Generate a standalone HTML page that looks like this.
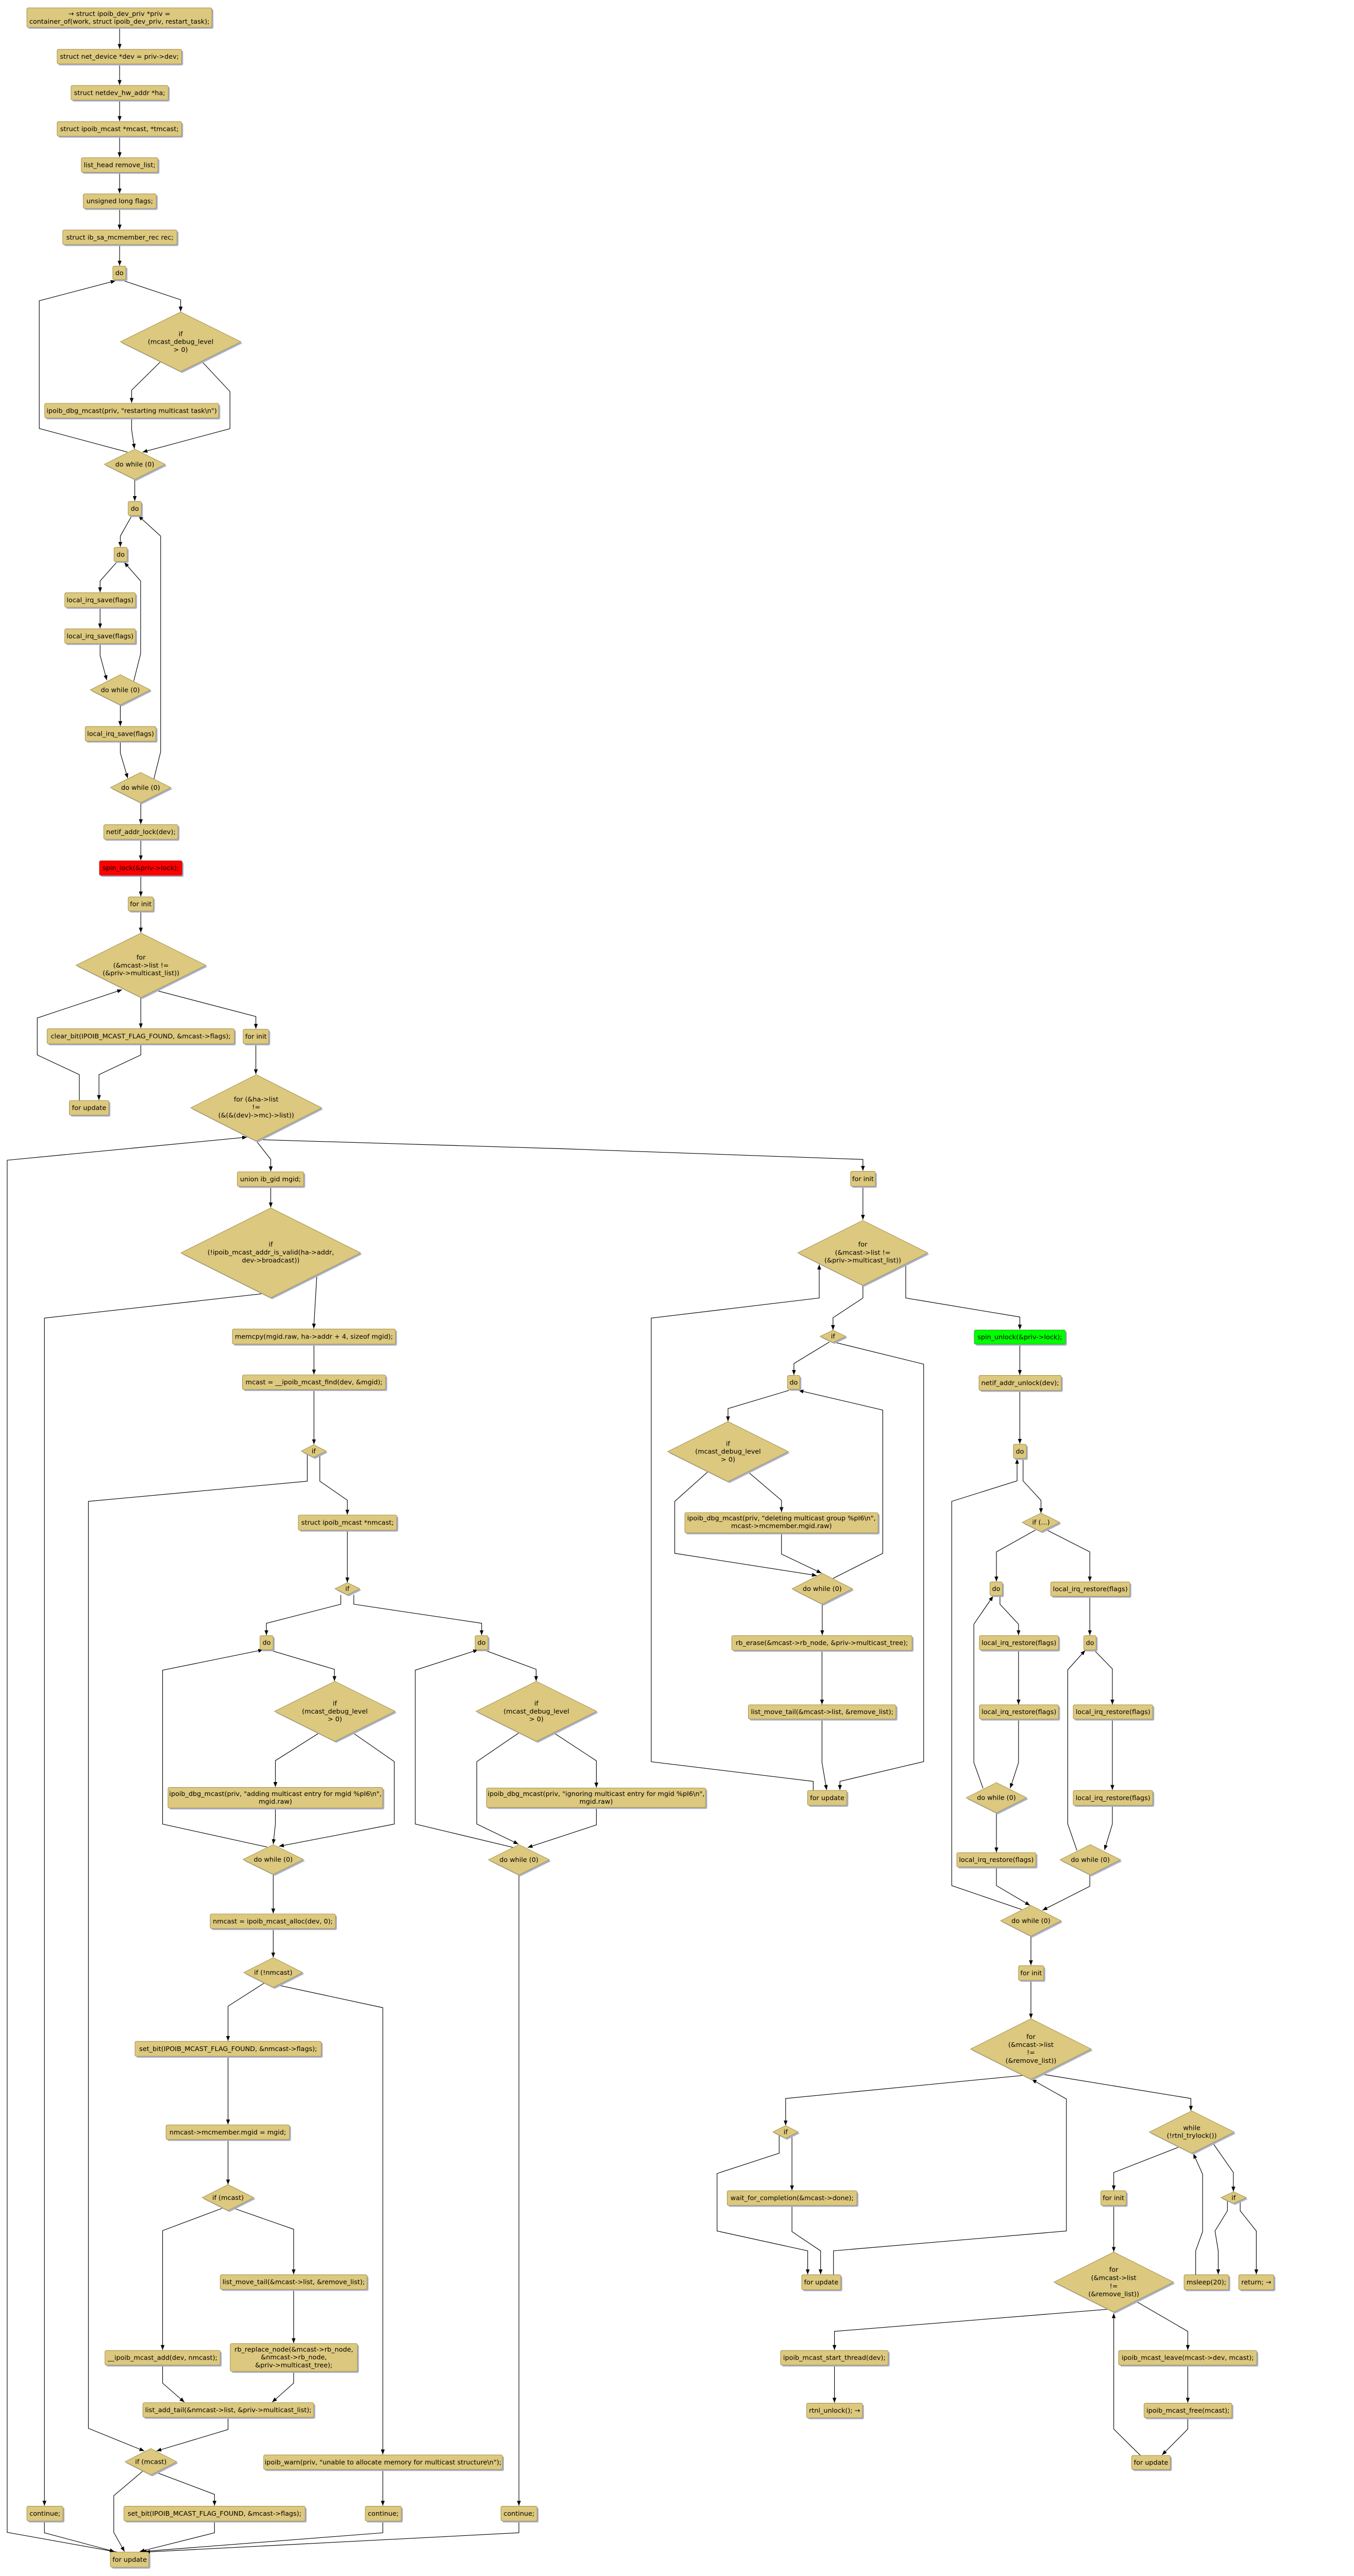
<!DOCTYPE html>
<html><head><meta charset="utf-8">
<style>
html,body{margin:0;padding:0;background:#fff;width:100%;height:100%;overflow:hidden;}
svg{position:absolute;top:0;left:0;display:block;width:100vw;height:100vh;}
.b{fill:#dcc87e;stroke:#a08c48;stroke-width:1;}
.s{fill:#a9b1cc;stroke:none;}
.e{fill:none;stroke:#000;stroke-width:1.2;}
text{font-family:"DejaVu Sans","Liberation Sans",sans-serif;font-size:13.5px;text-anchor:middle;fill:#000;}
</style></head>
<body><svg viewBox="0 0 2628 5276" preserveAspectRatio="xMinYMin meet" xmlns="http://www.w3.org/2000/svg">
<defs>
<marker id="a" markerUnits="userSpaceOnUse" markerWidth="11" markerHeight="8" refX="10" refY="4" orient="auto">
<path d="M0,0 L10,4 L0,8 z" fill="#000"/>
</marker>
</defs>
<rect width="2628" height="5276" fill="#fff"/>

<g class="e" marker-end="url(#a)">
<path d="M245,56 V100"/>
<path d="M245,131 V174"/>
<path d="M245,205 V248"/>
<path d="M245,279 V322"/>
<path d="M245,353 V396"/>
<path d="M245,427 V470"/>
<path d="M245,501 V544"/>
<path d="M252,574.6 L370,614 L370,638"/>
<path d="M328,741.7 L269.6,799 L269.6,825"/>
<path d="M413,740 L471,802 L471,878 L292,926"/>
<path d="M269.6,856 L269.6,880 L275.4,919"/>
<path d="M261,926 L80.4,877.6 L80.4,616 L236.6,575"/>
<path d="M276,982 L276,1026"/>
<path d="M269,1058 L246.4,1098 L246.4,1120"/>
<path d="M238.8,1151.8 L205,1190 L205,1213"/>
<path d="M205,1244 L205,1287"/>
<path d="M205,1318 L205,1342 L218.75,1393"/>
<path d="M274,1394.6 L288,1339 L288,1190 L254.5,1151.8"/>
<path d="M246.4,1444 L246.4,1487"/>
<path d="M246.4,1518 L246.4,1542 L261.6,1594"/>
<path d="M315,1596 L329,1540 L329,1098 L283.5,1056.5"/>
<path d="M288.4,1644 L288.4,1688"/>
<path d="M288.4,1719 L288.4,1762"/>
<path d="M288.4,1793 L288.4,1836"/>
<path d="M288.4,1866 L288.4,1910"/>
<path d="M288.4,2043 L288.4,2106"/>
<path d="M288.4,2138 L288.4,2160.7 L202.7,2201 L202.7,2253"/>
<path d="M162.5,2254 L162.5,2201 L76.3,2160.7 L76.3,2085 L250,2027"/>
<path d="M319.6,2028.6 L524,2082 L524,2107"/>
<path d="M524,2138 L524,2200"/>
<path d="M525,2337 L554.5,2374.6 L554.5,2399"/>
<path d="M240,5227 L14.7,5186.6 L14.7,2376.3 L506,2329"/>
<path d="M526.8,2334 L1150,2352.7 L1767.3,2374.7 L1767.3,2398"/>
<path d="M554.5,2430 L554.5,2473"/>
<path d="M535.4,2650 L91,2699.6 L91,5132"/>
<path d="M649,2611 L642.5,2721"/>
<path d="M643,2753 L643,2815"/>
<path d="M643,2846 L643,2958"/>
<path d="M629.3,2978 L629.3,3033.7 L181,3075 L181,4973.6 L295.6,5020"/>
<path d="M655,2978 L655,3033.7 L711.4,3072.7 L711.4,3102"/>
<path d="M711.4,3134 L711.4,3241"/>
<path d="M698,3266.7 L698,3285.7 L545.6,3324.7 L545.6,3349"/>
<path d="M724.6,3266.7 L724.6,3285.7 L986.4,3324.7 L986.4,3349"/>
<path d="M553.7,3380 L685,3419 L685,3443"/>
<path d="M652.7,3550 L564,3606 L564,3660"/>
<path d="M724,3550 L807.5,3608 L807.5,3736 L571.3,3781.5"/>
<path d="M564,3703 L564,3736 L559.6,3777"/>
<path d="M547,3783 L333,3736 L333,3420.8 L539,3379"/>
<path d="M559.6,3839 L559.6,3919"/>
<path d="M559.6,3950 L559.6,4009"/>
<path d="M540.5,4062 L467,4109 L467,4180"/>
<path d="M568.4,4065.6 L784,4112 L784,5027"/>
<path d="M467,4211.5 L467,4351"/>
<path d="M467,4382 L467,4474"/>
<path d="M454.7,4523 L333,4568.6 L333,4813"/>
<path d="M479,4523 L601.4,4565.8 L601.4,4658"/>
<path d="M601.4,4689 L601.4,4799"/>
<path d="M333,4844 L333,4881 L377.7,4920"/>
<path d="M601.4,4857 L601.4,4881 L557.4,4920"/>
<path d="M467,4951 L467,4976 L320.5,5020"/>
<path d="M292,5061.6 L233,5111.6 L233,5186.6 L255,5226"/>
<path d="M320.5,5064 L439.3,5108.8 L439.3,5132"/>
<path d="M439.3,5163.4 L439.3,5187.5 L286,5226"/>
<path d="M91,5163.4 L91,5187.5 L234.7,5226"/>
<path d="M784,5058 L784,5132"/>
<path d="M784,5163.4 L784,5187.5 L289.7,5226"/>
<path d="M1062.7,5163.4 L1062.7,5187.5 L297,5227"/>

<path d="M993,3380 L1098,3419 L1098,3443"/>
<path d="M1062.8,3549 L976.5,3608 L976.5,3735.8 L1061.7,3777"/>
<path d="M1134,3549 L1221.4,3606.4 L1221.4,3661"/>
<path d="M1221.4,3702 L1221.4,3737.7 L1080.6,3784"/>
<path d="M1050,3783.6 L850.5,3735.8 L850.5,3420.8 L979,3379"/>
<path d="M1062.8,3840 L1062.8,5132"/>

<path d="M1767.3,2430 L1767.3,2498"/>
<path d="M1767.3,2632.5 L1767.3,2658.5 L1706,2699 L1706,2724"/>
<path d="M1855,2589 L1855,2658.5 L2088.7,2697.4 L2088.7,2723"/>
<path d="M1698.5,2748.7 L1626,2792.7 L1626,2816"/>
<path d="M1712.7,2750 L1891.7,2794 L1891.7,3608 L1720.2,3648.5 L1720.2,3666"/>
<path d="M1615.6,2847.7 L1491,2885 L1491,2911"/>
<path d="M1451.6,3012.7 L1381.9,3075 L1381.9,3181.4 L1673,3227"/>
<path d="M1529.8,3012.7 L1600.5,3073 L1600.5,3097"/>
<path d="M1600.5,3139.6 L1600.5,3183 L1682.5,3222"/>
<path d="M1706,3232.8 L1808,3181.4 L1808,2888 L1635.4,2847.7"/>
<path d="M1684,3285.5 L1684,3349"/>
<path d="M1683.5,3380 L1683.5,3491"/>
<path d="M1683.5,3521 L1683.5,3610 L1693,3666"/>
<path d="M1665.5,3667 L1665.5,3648.5 L1333.8,3608.3 L1333.8,2699.6 L1677.8,2658.5 L1677.8,2590"/>
<path d="M2088.7,2753 L2088.7,2816"/>
<path d="M2088.7,2848 L2088.7,2957"/>
<path d="M2095.3,2987 L2095.3,3033 L2132,3073 L2132,3099"/>
<path d="M2092.5,3911 L1949.2,3862 L1949.2,3075 L2083,3033 L2083,2988"/>
<path d="M2120.8,3133.7 L2040.7,3178.5 L2040.7,3239"/>
<path d="M2144,3133.7 L2232,3178.5 L2232,3239"/>
<path d="M2048,3268 L2048,3285.6 L2086,3326.6 L2086,3349"/>
<path d="M2013.3,3662.5 L1994.5,3610 L1994.5,3326.6 L2034,3269"/>
<path d="M2086,3379.4 L2086,3491"/>
<path d="M2086,3521 L2086,3610 L2069,3662.5"/>
<path d="M2040.7,3713 L2040.7,3794"/>
<path d="M2040.7,3823.8 L2040.7,3862 L2109.5,3902.5"/>
<path d="M2232,3269.4 L2232,3349"/>
<path d="M2240.5,3379.4 L2278.2,3418 L2278.2,3491"/>
<path d="M2278.2,3521 L2278.2,3666"/>
<path d="M2278.2,3697.6 L2278.2,3735.8 L2262,3789"/>
<path d="M2205.6,3790 L2186.8,3735.8 L2186.8,3420 L2222.6,3380"/>
<path d="M2232,3840 L2232,3863.4 L2135,3912.5"/>
<path d="M2111.4,3965.5 L2111.4,4025"/>
<path d="M2111.4,4056 L2111.4,4134"/>
<path d="M2097,4250.5 L1609,4298 L1609,4353"/>
<path d="M2133,4248 L2439,4298 L2439,4323"/>
<path d="M1595.8,4374 L1595.8,4410 L1468.6,4451.6 L1468.6,4569.4 L1654.2,4610 L1654.2,4658"/>
<path d="M1622,4374 L1622,4486"/>
<path d="M1622,4517 L1622,4570.7 L1680.6,4610 L1680.6,4658"/>
<path d="M1707,4659 L1707,4610 L2184,4569.4 L2184,4299 L2113,4259"/>
<path d="M2413,4398 L2281,4449.6 L2281,4486"/>
<path d="M2483.6,4388.7 L2526,4449.6 L2526,4488.5"/>
<path d="M2513.8,4508.5 L2513.8,4528 L2488.4,4569.4 L2495,4610 L2495,4658"/>
<path d="M2540,4508.5 L2540,4528 L2573,4569.4 L2573,4658"/>
<path d="M2448.8,4659 L2448.8,4610 L2463,4570.7 L2463,4453 L2444,4411"/>
<path d="M2281,4517 L2281,4612"/>
<path d="M2268.7,4729.7 L1709,4775 L1709,4813"/>
<path d="M2326,4713 L2432.7,4775 L2432.7,4813"/>
<path d="M1709,4844 L1709,4921"/>
<path d="M2432.7,4844 L2432.7,4921"/>
<path d="M2432.7,4952 L2432.7,4975 L2380,5028"/>
<path d="M2335.6,5029 L2281,4975 L2281,4738"/>
</g>

<rect class="s" x="58" y="19" width="379" height="40" rx="3"/><rect class="b" x="55" y="16" width="379" height="40" rx="3"/>
<text x="244.5" y="32.5">→ struct ipoib_dev_priv *priv =</text><text x="244.5" y="48.5">container_of(work, struct ipoib_dev_priv, restart_task);</text>

<rect class="s" x="120" y="104" width="255" height="30" rx="3"/><rect class="b" x="117" y="101" width="255" height="30" rx="3"/>
<text x="244.5" y="120.5">struct net_device *dev = priv-&gt;dev;</text>

<rect class="s" x="148.5" y="178" width="199" height="30" rx="3"/><rect class="b" x="145.5" y="175" width="199" height="30" rx="3"/>
<text x="245" y="194.5">struct netdev_hw_addr *ha;</text>

<rect class="s" x="120" y="252" width="255" height="30" rx="3"/><rect class="b" x="117" y="249" width="255" height="30" rx="3"/>
<text x="244.5" y="268.5">struct ipoib_mcast *mcast, *tmcast;</text>

<rect class="s" x="169.5" y="326" width="157" height="30" rx="3"/><rect class="b" x="166.5" y="323" width="157" height="30" rx="3"/>
<text x="245" y="342.5">list_head remove_list;</text>

<rect class="s" x="173.5" y="400" width="149.5" height="30" rx="3"/><rect class="b" x="170.5" y="397" width="149.5" height="30" rx="3"/>
<text x="245.25" y="416.5">unsigned long flags;</text>

<rect class="s" x="131.5" y="474" width="234" height="30" rx="3"/><rect class="b" x="128.5" y="471" width="234" height="30" rx="3"/>
<text x="245.5" y="490.5">struct ib_sa_mcmember_rec rec;</text>

<rect class="s" x="234" y="548" width="27" height="28" rx="3"/><rect class="b" x="231" y="545" width="27" height="28" rx="3"/>
<text x="244.5" y="563.5">do</text>

<polygon class="s" points="249.5,703 373,642 496.5,703 373,764"/><polygon class="b" points="246.5,700 370,639 493.5,700 370,761"/>
<text x="370" y="688.5">if</text><text x="370" y="704.5">(mcast_debug_level</text><text x="370" y="720.5">&gt; 0)</text>

<rect class="s" x="94.5" y="829" width="356.5" height="30" rx="3"/><rect class="b" x="91.5" y="826" width="356.5" height="30" rx="3"/>
<text x="269.75" y="845.5">ipoib_dbg_mcast(priv, "restarting multicast task\n")</text>

<polygon class="s" points="216.5,954 279,923 341.5,954 279,985"/><polygon class="b" points="213.5,951 276,920 338.5,951 276,982"/>
<text x="276" y="955.5">do while (0)</text>

<rect class="s" x="265.5" y="1030" width="27" height="29" rx="3"/><rect class="b" x="262.5" y="1027" width="27" height="29" rx="3"/>
<text x="276" y="1046">do</text>

<rect class="s" x="236.5" y="1124" width="27" height="29" rx="3"/><rect class="b" x="233.5" y="1121" width="27" height="29" rx="3"/>
<text x="247" y="1140">do</text>

<rect class="s" x="135.6" y="1217" width="145" height="30" rx="3"/><rect class="b" x="132.6" y="1214" width="145" height="30" rx="3"/>
<text x="205" y="1233.5">local_irq_save(flags)</text>

<rect class="s" x="135.6" y="1291" width="145" height="30" rx="3"/><rect class="b" x="132.6" y="1288" width="145" height="30" rx="3"/>
<text x="205" y="1307.5">local_irq_save(flags)</text>

<polygon class="s" points="187.9,1416 249.4,1385 310.9,1416 249.4,1447"/><polygon class="b" points="184.9,1413 246.4,1382 307.9,1413 246.4,1444"/>
<text x="246.4" y="1417.5">do while (0)</text>

<rect class="s" x="177.5" y="1491" width="145" height="30" rx="3"/><rect class="b" x="174.5" y="1488" width="145" height="30" rx="3"/>
<text x="247" y="1507.5">local_irq_save(flags)</text>

<polygon class="s" points="229,1616 291,1585 353,1616 291,1647"/><polygon class="b" points="226,1613 288,1582 350,1613 288,1644"/>
<text x="288" y="1617.5">do while (0)</text>

<rect class="s" x="215.5" y="1692" width="152" height="30" rx="3"/><rect class="b" x="212.5" y="1689" width="152" height="30" rx="3"/>
<text x="288.5" y="1708.5">netif_addr_lock(dev);</text>

<rect class="s" x="206.6" y="1766" width="169.4" height="30" rx="3"/><rect x="203.6" y="1763" width="169.4" height="30" rx="3" fill="#ff0000" stroke="#a0302a" stroke-width="1"/>
<text x="288.3" y="1782.5">spin_lock(&amp;priv-&gt;lock);</text>

<rect class="s" x="265.5" y="1840" width="51.5" height="29" rx="3"/><rect class="b" x="262.5" y="1837" width="51.5" height="29" rx="3"/>
<text x="288.25" y="1856">for init</text>

<polygon class="s" points="158.8,1980 291.8,1914 424.8,1980 291.8,2046"/><polygon class="b" points="155.8,1977 288.8,1911 421.8,1977 288.8,2043"/>
<text x="288.8" y="1965.5">for</text><text x="288.8" y="1981.5">(&amp;mcast-&gt;list !=</text><text x="288.8" y="1997.5">(&amp;priv-&gt;multicast_list))</text>

<rect class="s" x="99.4" y="2110" width="383.6" height="31" rx="3"/><rect class="b" x="96.4" y="2107" width="383.6" height="31" rx="3"/>
<text x="288.2" y="2127">clear_bit(IPOIB_MCAST_FLAG_FOUND, &amp;mcast-&gt;flags);</text>

<rect class="s" x="145" y="2257" width="81" height="30" rx="3"/><rect class="b" x="142" y="2254" width="81" height="30" rx="3"/>
<text x="182.5" y="2273.5">for update</text>

<rect class="s" x="501" y="2111" width="52.4" height="30" rx="3"/><rect class="b" x="498" y="2108" width="52.4" height="30" rx="3"/>
<text x="524.2" y="2127.5">for init</text>

<polygon class="s" points="393.7,2272 527.7,2204 661.7,2272 527.7,2340"/><polygon class="b" points="390.7,2269 524.7,2201 658.7,2269 524.7,2337"/>
<text x="524.7" y="2256">for (&amp;ha-&gt;list</text><text x="524.7" y="2272">!=</text><text x="524.7" y="2288.5">(&amp;(&amp;(dev)-&gt;mc)-&gt;list))</text>

<rect class="s" x="489" y="2403" width="136" height="30" rx="3"/><rect class="b" x="486" y="2400" width="136" height="30" rx="3"/>
<text x="554" y="2419.5">union ib_gid mgid;</text>

<polygon class="s" points="373.5,2569 557.5,2477 741.5,2569 557.5,2661"/><polygon class="b" points="370.5,2566 554.5,2474 738.5,2566 554.5,2658"/>
<text x="554.5" y="2553">if</text><text x="554.5" y="2569.5">(!ipoib_mcast_addr_is_valid(ha-&gt;addr,</text><text x="554.5" y="2586">dev-&gt;broadcast))</text>

<rect class="s" x="479" y="2725" width="334" height="31" rx="3"/><rect class="b" x="476" y="2722" width="334" height="31" rx="3"/>
<text x="643" y="2742">memcpy(mgid.raw, ha-&gt;addr + 4, sizeof mgid);</text>

<rect class="s" x="499.5" y="2819" width="293.5" height="30" rx="3"/><rect class="b" x="496.5" y="2816" width="293.5" height="30" rx="3"/>
<text x="643.25" y="2835.5">mcast = __ipoib_mcast_find(dev, &amp;mgid);</text>

<polygon class="s" points="620,2975 645.5,2962 671,2975 645.5,2988"/><polygon class="b" points="617,2972 642.5,2959 668,2972 642.5,2985"/>
<text x="642.5" y="2976.5">if</text>

<rect class="s" x="614" y="3106" width="201.6" height="31" rx="3"/><rect class="b" x="611" y="3103" width="201.6" height="31" rx="3"/>
<text x="711.8" y="3123">struct ipoib_mcast *nmcast;</text>

<polygon class="s" points="688.9,3257 714.4,3244.5 739.9,3257 714.4,3269.5"/><polygon class="b" points="685.9,3254 711.4,3241.5 736.9,3254 711.4,3266.5"/>
<text x="711.4" y="3258.5">if</text>

<rect class="s" x="535.5" y="3353" width="27" height="29" rx="3"/><rect class="b" x="532.5" y="3350" width="27" height="29" rx="3"/>
<text x="546" y="3369">do</text>

<rect class="s" x="976" y="3353" width="26.5" height="29" rx="3"/><rect class="b" x="973" y="3350" width="26.5" height="29" rx="3"/>
<text x="986.25" y="3369">do</text>

<polygon class="s" points="565.3,3508 688.8,3446.5 812.3,3508 688.8,3569.5"/><polygon class="b" points="562.3,3505 685.8,3443.5 809.3,3505 685.8,3566.5"/>
<text x="685.8" y="3493.5">if</text><text x="685.8" y="3509.5">(mcast_debug_level</text><text x="685.8" y="3525.5">&gt; 0)</text>

<rect class="s" x="347" y="3664" width="440" height="42" rx="3"/><rect class="b" x="344" y="3661" width="440" height="42" rx="3"/>
<text x="564" y="3678.5">ipoib_dbg_mcast(priv, "adding multicast entry for mgid %pI6\n",</text><text x="564" y="3694.5">mgid.raw)</text>

<polygon class="s" points="500.6,3811.5 562.6,3781 624.6,3811.5 562.6,3842"/><polygon class="b" points="497.6,3808.5 559.6,3778 621.6,3808.5 559.6,3839"/>
<text x="559.6" y="3813">do while (0)</text>

<rect class="s" x="433.5" y="3923" width="256.5" height="30" rx="3"/><rect class="b" x="430.5" y="3920" width="256.5" height="30" rx="3"/>
<text x="558.75" y="3939.5">nmcast = ipoib_mcast_alloc(dev, 0);</text>

<polygon class="s" points="502.1,4043 562.6,4012.5 623.1,4043 562.6,4073.5"/><polygon class="b" points="499.1,4040 559.6,4009.5 620.1,4040 559.6,4070.5"/>
<text x="559.6" y="4044.5">if (!nmcast)</text>

<rect class="s" x="279.5" y="4184" width="381.5" height="30.5" rx="3"/><rect class="b" x="276.5" y="4181" width="381.5" height="30.5" rx="3"/>
<text x="467.25" y="4200.75">set_bit(IPOIB_MCAST_FLAG_FOUND, &amp;nmcast-&gt;flags);</text>

<rect class="s" x="343" y="4355" width="253" height="30" rx="3"/><rect class="b" x="340" y="4352" width="253" height="30" rx="3"/>
<text x="466.5" y="4371.5">nmcast-&gt;mcmember.mgid = mgid;</text>

<polygon class="s" points="417,4504 470,4477.5 523,4504 470,4530.5"/><polygon class="b" points="414,4501 467,4474.5 520,4501 467,4527.5"/>
<text x="467" y="4505.5">if (mcast)</text>

<rect class="s" x="454" y="4662" width="300.7" height="30" rx="3"/><rect class="b" x="451" y="4659" width="300.7" height="30" rx="3"/>
<text x="601.35" y="4678.5">list_move_tail(&amp;mcast-&gt;list, &amp;remove_list);</text>

<rect class="s" x="474.6" y="4803" width="260.4" height="57" rx="3"/><rect class="b" x="471.6" y="4800" width="260.4" height="57" rx="3"/>
<text x="601.8" y="4816.5">rb_replace_node(&amp;mcast-&gt;rb_node,</text><text x="601.8" y="4832.5">&amp;nmcast-&gt;rb_node,</text><text x="601.8" y="4848.5">&amp;priv-&gt;multicast_tree);</text>

<rect class="s" x="218" y="4817" width="236" height="30" rx="3"/><rect class="b" x="215" y="4814" width="236" height="30" rx="3"/>
<text x="333" y="4833.5">__ipoib_mcast_add(dev, nmcast);</text>

<rect class="s" x="295.6" y="4924" width="350" height="30" rx="3"/><rect class="b" x="292.6" y="4921" width="350" height="30" rx="3"/>
<text x="467.6" y="4940.5">list_add_tail(&amp;nmcast-&gt;list, &amp;priv-&gt;multicast_list);</text>

<polygon class="s" points="259,5045 312,5018 365,5045 312,5072"/><polygon class="b" points="256,5042 309,5015 362,5042 309,5069"/>
<text x="309" y="5046.5">if (mcast)</text>

<rect class="s" x="256.8" y="5136" width="371.2" height="30.4" rx="3"/><rect class="b" x="253.8" y="5133" width="371.2" height="30.4" rx="3"/>
<text x="439.4" y="5152.7">set_bit(IPOIB_MCAST_FLAG_FOUND, &amp;mcast-&gt;flags);</text>

<rect class="s" x="58" y="5136" width="74" height="30.4" rx="3"/><rect class="b" x="55" y="5133" width="74" height="30.4" rx="3"/>
<text x="92" y="5152.7">continue;</text>

<rect class="s" x="543" y="5031" width="489" height="30" rx="3"/><rect class="b" x="540" y="5028" width="489" height="30" rx="3"/>
<text x="784.5" y="5047.5">ipoib_warn(priv, "unable to allocate memory for multicast structure\n");</text>

<rect class="s" x="751" y="5136" width="74" height="30.4" rx="3"/><rect class="b" x="748" y="5133" width="74" height="30.4" rx="3"/>
<text x="785" y="5152.7">continue;</text>

<rect class="s" x="1029" y="5136" width="74" height="30.4" rx="3"/><rect class="b" x="1026" y="5133" width="74" height="30.4" rx="3"/>
<text x="1063" y="5152.7">continue;</text>

<rect class="s" x="229" y="5230" width="79" height="31" rx="3"/><rect class="b" x="226" y="5227" width="79" height="31" rx="3"/>
<text x="265.5" y="5247">for update</text>

<polygon class="s" points="978,3508 1101.5,3446.5 1225,3508 1101.5,3569.5"/><polygon class="b" points="975,3505 1098.5,3443.5 1222,3505 1098.5,3566.5"/>
<text x="1098.5" y="3493.5">if</text><text x="1098.5" y="3509.5">(mcast_debug_level</text><text x="1098.5" y="3525.5">&gt; 0)</text>

<rect class="s" x="999.4" y="3665" width="449" height="40" rx="3"/><rect class="b" x="996.4" y="3662" width="449" height="40" rx="3"/>
<text x="1220.9" y="3678.5">ipoib_dbg_mcast(priv, "ignoring multicast entry for mgid %pI6\n",</text><text x="1220.9" y="3694.5">mgid.raw)</text>

<polygon class="s" points="1003.3,3812 1065.8,3781 1128.3,3812 1065.8,3843"/><polygon class="b" points="1000.3,3809 1062.8,3778 1125.3,3809 1062.8,3840"/>
<text x="1062.8" y="3813.5">do while (0)</text>

<rect class="s" x="1745" y="2402" width="50.8" height="30.7" rx="3"/><rect class="b" x="1742" y="2399" width="50.8" height="30.7" rx="3"/>
<text x="1767.4" y="2418.85">for init</text>

<polygon class="s" points="1637,2569 1770,2502.5 1903,2569 1770,2635.5"/><polygon class="b" points="1634,2566 1767,2499.5 1900,2566 1767,2632.5"/>
<text x="1767" y="2553">for</text><text x="1767" y="2570">(&amp;mcast-&gt;list !=</text><text x="1767" y="2586">(&amp;priv-&gt;multicast_list))</text>

<polygon class="s" points="1682.5,2740 1709,2727.5 1735.5,2740 1709,2752.5"/><polygon class="b" points="1679.5,2737 1706,2724.5 1732.5,2737 1706,2749.5"/>
<text x="1706" y="2741.5">if</text>

<rect class="s" x="1615.8" y="2820" width="25.4" height="28.5" rx="3"/><rect class="b" x="1612.8" y="2817" width="25.4" height="28.5" rx="3"/>
<text x="1625.5" y="2835.75">do</text>

<polygon class="s" points="1370.5,2976 1494,2914.5 1617.5,2976 1494,3037.5"/><polygon class="b" points="1367.5,2973 1491,2911.5 1614.5,2973 1491,3034.5"/>
<text x="1491" y="2961.5">if</text><text x="1491" y="2977.5">(mcast_debug_level</text><text x="1491" y="2993.5">&gt; 0)</text>

<rect class="s" x="1405.6" y="3101" width="395.8" height="41.6" rx="3"/><rect class="b" x="1402.6" y="3098" width="395.8" height="41.6" rx="3"/>
<text x="1600.5" y="3114">ipoib_dbg_mcast(priv, "deleting multicast group %pI6\n",</text><text x="1600.5" y="3130">mcast-&gt;mcmember.mgid.raw)</text>

<polygon class="s" points="1625,3257 1687,3225.5 1749,3257 1687,3288.5"/><polygon class="b" points="1622,3254 1684,3222.5 1746,3254 1684,3285.5"/>
<text x="1684" y="3258.5">do while (0)</text>

<rect class="s" x="1501.7" y="3353" width="369.3" height="30" rx="3"/><rect class="b" x="1498.7" y="3350" width="369.3" height="30" rx="3"/>
<text x="1683.35" y="3369.5">rb_erase(&amp;mcast-&gt;rb_node, &amp;priv-&gt;multicast_tree);</text>

<rect class="s" x="1535.7" y="3494.6" width="302.3" height="29.4" rx="3"/><rect class="b" x="1532.7" y="3491.6" width="302.3" height="29.4" rx="3"/>
<text x="1683.85" y="3510.8">list_move_tail(&amp;mcast-&gt;list, &amp;remove_list);</text>

<rect class="s" x="1657" y="3670" width="80.4" height="30.6" rx="3"/><rect class="b" x="1654" y="3667" width="80.4" height="30.6" rx="3"/>
<text x="1694.2" y="3686.8">for update</text>

<rect class="s" x="1998.4" y="2727" width="186.6" height="29" rx="3"/><rect x="1995.4" y="2724" width="186.6" height="29" rx="3" fill="#00ff00" stroke="#3a9a2a" stroke-width="1"/>
<text x="2088.7" y="2743">spin_unlock(&amp;priv-&gt;lock);</text>

<rect class="s" x="2008" y="2820" width="168.6" height="30.7" rx="3"/><rect class="b" x="2005" y="2817" width="168.6" height="30.7" rx="3"/>
<text x="2089.3" y="2836.85">netif_addr_unlock(dev);</text>

<rect class="s" x="2078.5" y="2961" width="26.5" height="29" rx="3"/><rect class="b" x="2075.5" y="2958" width="26.5" height="29" rx="3"/>
<text x="2088.75" y="2977">do</text>

<polygon class="s" points="2096.5,3121 2135,3102 2173.5,3121 2135,3140"/><polygon class="b" points="2093.5,3118 2132,3099 2170.5,3118 2132,3137"/>
<text x="2132" y="3122.5">if (...)</text>

<rect class="s" x="2030.5" y="3243" width="25.5" height="28" rx="3"/><rect class="b" x="2027.5" y="3240" width="25.5" height="28" rx="3"/>
<text x="2040.25" y="3258.5">do</text>

<rect class="s" x="2155" y="3243" width="162" height="29.4" rx="3"/><rect class="b" x="2152" y="3240" width="162" height="29.4" rx="3"/>
<text x="2233" y="3259.2">local_irq_restore(flags)</text>

<rect class="s" x="2008.8" y="3353" width="162.2" height="29.4" rx="3"/><rect class="b" x="2005.8" y="3350" width="162.2" height="29.4" rx="3"/>
<text x="2086.9" y="3369.2">local_irq_restore(flags)</text>

<rect class="s" x="2008.8" y="3494.6" width="162.2" height="29.4" rx="3"/><rect class="b" x="2005.8" y="3491.6" width="162.2" height="29.4" rx="3"/>
<text x="2086.9" y="3510.8">local_irq_restore(flags)</text>

<polygon class="s" points="1981.7,3685 2043.7,3654 2105.7,3685 2043.7,3716"/><polygon class="b" points="1978.7,3682 2040.7,3651 2102.7,3682 2040.7,3713"/>
<text x="2040.7" y="3686.5">do while (0)</text>

<rect class="s" x="1962.6" y="3797.5" width="162.1" height="29.3" rx="3"/><rect class="b" x="1959.6" y="3794.5" width="162.1" height="29.3" rx="3"/>
<text x="2040.65" y="3813.65">local_irq_restore(flags)</text>

<rect class="s" x="2222.7" y="3353" width="25.3" height="29.4" rx="3"/><rect class="b" x="2219.7" y="3350" width="25.3" height="29.4" rx="3"/>
<text x="2232.35" y="3369.2">do</text>

<rect class="s" x="2201" y="3494.6" width="163" height="29.4" rx="3"/><rect class="b" x="2198" y="3491.6" width="163" height="29.4" rx="3"/>
<text x="2279.5" y="3510.8">local_irq_restore(flags)</text>

<rect class="s" x="2201" y="3670" width="163" height="30.6" rx="3"/><rect class="b" x="2198" y="3667" width="163" height="30.6" rx="3"/>
<text x="2279.5" y="3686.8">local_irq_restore(flags)</text>

<polygon class="s" points="2174,3812 2236,3781 2298,3812 2236,3843"/><polygon class="b" points="2171,3809 2233,3778 2295,3809 2233,3840"/>
<text x="2233" y="3813.5">do while (0)</text>

<polygon class="s" points="2052.4,3937 2114.4,3905.5 2176.4,3937 2114.4,3968.5"/><polygon class="b" points="2049.4,3934 2111.4,3902.5 2173.4,3934 2111.4,3965.5"/>
<text x="2111.4" y="3938.5">do while (0)</text>

<rect class="s" x="2089" y="4029" width="51.7" height="30" rx="3"/><rect class="b" x="2086" y="4026" width="51.7" height="30" rx="3"/>
<text x="2111.85" y="4045.5">for init</text>

<polygon class="s" points="1990.9,4199.6 2114.4,4137.6 2237.9,4199.6 2114.4,4261.6"/><polygon class="b" points="1987.9,4196.6 2111.4,4134.6 2234.9,4196.6 2111.4,4258.6"/>
<text x="2111.4" y="4176">for</text><text x="2111.4" y="4192.5">(&amp;mcast-&gt;list</text><text x="2111.4" y="4208">!=</text><text x="2111.4" y="4225">(&amp;remove_list))</text>

<polygon class="s" points="1586,4369.5 1612,4356.5 1638,4369.5 1612,4382.5"/><polygon class="b" points="1583,4366.5 1609,4353.5 1635,4366.5 1609,4379.5"/>
<text x="1609" y="4371">if</text>

<rect class="s" x="1492.3" y="4490" width="265.7" height="30" rx="3"/><rect class="b" x="1489.3" y="4487" width="265.7" height="30" rx="3"/>
<text x="1622.15" y="4506.5">wait_for_completion(&amp;mcast-&gt;done);</text>

<rect class="s" x="1645" y="4662" width="80" height="30.8" rx="3"/><rect class="b" x="1642" y="4659" width="80" height="30.8" rx="3"/>
<text x="1682" y="4678.9">for update</text>

<polygon class="s" points="2356.8,4369.8 2443.8,4326.3 2530.8,4369.8 2443.8,4413.3"/><polygon class="b" points="2353.8,4366.8 2440.8,4323.3 2527.8,4366.8 2440.8,4410.3"/>
<text x="2440.8" y="4362.5">while</text><text x="2440.8" y="4378.8">(!rtnl_trylock())</text>

<rect class="s" x="2257.6" y="4490" width="51.9" height="30" rx="3"/><rect class="b" x="2254.6" y="4487" width="51.9" height="30" rx="3"/>
<text x="2280.55" y="4506.5">for init</text>

<polygon class="s" points="2503.5,4504 2529.5,4492 2555.5,4504 2529.5,4516"/><polygon class="b" points="2500.5,4501 2526.5,4489 2552.5,4501 2526.5,4513"/>
<text x="2526.5" y="4505.5">if</text>

<rect class="s" x="2428" y="4662" width="91.6" height="30.8" rx="3"/><rect class="b" x="2425" y="4659" width="91.6" height="30.8" rx="3"/>
<text x="2470.8" y="4678.9">msleep(20);</text>

<rect class="s" x="2540" y="4662" width="72" height="30.8" rx="3"/><rect class="b" x="2537" y="4659" width="72" height="30.8" rx="3"/>
<text x="2573" y="4678.9">return; →</text>

<polygon class="s" points="2161.5,4677 2284,4615.5 2406.5,4677 2284,4738.5"/><polygon class="b" points="2158.5,4674 2281,4612.5 2403.5,4674 2281,4735.5"/>
<text x="2281" y="4653">for</text><text x="2281" y="4670">(&amp;mcast-&gt;list</text><text x="2281" y="4686.5">!=</text><text x="2281" y="4703">(&amp;remove_list))</text>

<rect class="s" x="1601.6" y="4817" width="220.4" height="30" rx="3"/><rect class="b" x="1598.6" y="4814" width="220.4" height="30" rx="3"/>
<text x="1708.8" y="4833.5">ipoib_mcast_start_thread(dev);</text>

<rect class="s" x="1655" y="4925" width="114.4" height="30" rx="3"/><rect class="b" x="1652" y="4922" width="114.4" height="30" rx="3"/>
<text x="1709.2" y="4941.5">rtnl_unlock(); →</text>

<rect class="s" x="2294" y="4817" width="283" height="30" rx="3"/><rect class="b" x="2291" y="4814" width="283" height="30" rx="3"/>
<text x="2432.5" y="4833.5">ipoib_mcast_leave(mcast-&gt;dev, mcast);</text>

<rect class="s" x="2346" y="4925" width="180" height="30" rx="3"/><rect class="b" x="2343" y="4922" width="180" height="30" rx="3"/>
<text x="2433" y="4941.5">ipoib_mcast_free(mcast);</text>

<rect class="s" x="2320.7" y="5032" width="79.3" height="29" rx="3"/><rect class="b" x="2317.7" y="5029" width="79.3" height="29" rx="3"/>
<text x="2357.35" y="5048">for update</text>
</svg></body></html>
